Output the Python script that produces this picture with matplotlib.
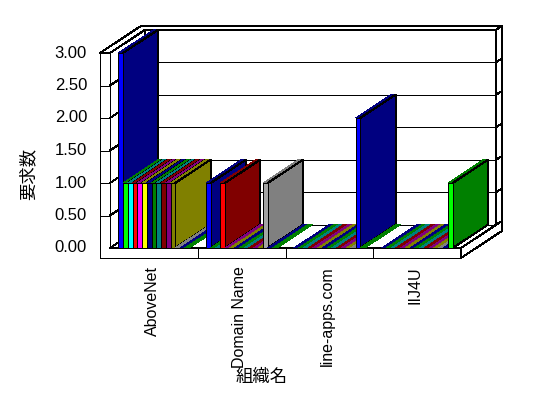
import matplotlib
matplotlib.use("Agg")
import matplotlib.pyplot as plt
from matplotlib.patches import Polygon

# data (request counts per organisation, 15 series)
categories = ["AboveNet", "Domain Name", "line-apps.com", "IIJ4U"]
abovenet = [3, 1, 1, 1, 1, 1, 1, 1, 1, 1, 1, 1, 0, 0, 0]
domain_name = [1, 0, 0, 1, 0, 0, 0, 0, 0, 0, 0, 0, 1, 0, 0]
line_apps = [0, 0, 0, 0, 0, 0, 0, 0, 0, 0, 0, 0, 0, 2, 0]
iij4u = [0, 0, 0, 0, 0, 0, 0, 0, 0, 0, 0, 0, 0, 0, 1]
y_ticks = [0.0, 0.5, 1.0, 1.5, 2.0, 2.5, 3.0]

front_colors = ['#0000ff', '#00ff00', '#00ffff', '#ff0000', '#ff00ff', '#ffff00', '#000080',
                '#008000', '#008080', '#800000', '#800080', '#808000', '#a4a4a4']
dark_colors = ['#000080', '#008000', '#008080', '#800000', '#800080', '#808000', '#000080',
               '#008000', '#008080', '#800000', '#800080', '#808000', '#808080']

groups = [abovenet, domain_name, line_apps, iij4u]
n_cat = len(categories)
n_ser = len(abovenet)
y_max = y_ticks[-1]

# layout: front floor starts at px 110, one category = 87.75 px, one unit = 65 px
W, H = 548, 398
px0, slot_px, py0, unit_px = 110, 87.75, 248, 65.0
DX, DY = 35.3 / slot_px, 23.3 / unit_px      # oblique depth vector
Z_BACK = 1.17                                  # back side of the back wall
T_L, T_F = 10 / slot_px, 10 / unit_px          # wall / floor thickness

fig = plt.figure(figsize=(W / 100, H / 100), dpi=100)
ax = fig.add_axes([0, 0, 1, 1])
ax.set_xlim(-px0 / slot_px, (W - px0) / slot_px)
ax.set_ylim((py0 - H) / unit_px, py0 / unit_px)
ax.axis('off')

LW = 0.7


def P(x, y, z):
    return (x + z * DX, y + z * DY)


def face(pts, fc, ec='black'):
    ax.add_patch(Polygon([P(*p) for p in pts], closed=True, facecolor=fc,
                         edgecolor=ec, linewidth=LW, antialiased=False, zorder=1))


def line(p1, p2):
    a, b = P(*p1), P(*p2)
    ax.plot([a[0], b[0]], [a[1], b[1]], color='black', lw=LW, antialiased=False, zorder=1)


# box: inner surfaces
face([(0, 0, 0), (n_cat, 0, 0), (n_cat, 0, 1), (0, 0, 1)], 'white')
face([(0, 0, 0), (0, 0, 1), (0, y_max, 1), (0, y_max, 0)], 'white')
face([(0, 0, 1), (n_cat, 0, 1), (n_cat, y_max, 1), (0, y_max, 1)], 'white')
# outer surfaces
face([(-T_L, y_max, 0), (0, y_max, 0), (0, 0, 0), (n_cat, 0, 0), (n_cat, -T_F, 0),
      (-T_L, -T_F, 0)], 'white')
face([(-T_L, y_max, 0), (0, y_max, 0), (0, y_max, 1), (n_cat, y_max, 1),
      (n_cat, y_max, Z_BACK), (-T_L, y_max, Z_BACK)], 'white')
face([(n_cat, -T_F, 0), (n_cat, 0, 0), (n_cat, 0, 1), (n_cat, y_max, 1),
      (n_cat, y_max, Z_BACK), (n_cat, -T_F, Z_BACK)], 'white')

for v in y_ticks:
    line((0, v, 1), (n_cat, v, 1))
    line((0, v, 0), (0, v, 1))
    line((n_cat, v, 1), (n_cat, v, Z_BACK))
    if v > 0:
        line((-T_L, v, 0), (0, v, 0))
for c in range(1, n_cat):
    line((c, -T_F, 0), (c, 0, 0))

# bars, left to right so the next bar hides the previous side face
bw = 4.75 / slot_px
offset = (1 - n_ser * bw) / 2
for c, vals in enumerate(groups):
    for s, v in enumerate(vals):
        x0 = c + offset + s * bw
        x1 = x0 + bw
        fc = front_colors[s % len(front_colors)]
        dc = dark_colors[s % len(dark_colors)]
        face([(x0, v, 0), (x1, v, 0), (x1, v, 1), (x0, v, 1)], dc, ec='none')
        if v > 0:
            face([(x1, 0, 0), (x1, 0, 1), (x1, v, 1), (x1, v, 0)], dc)
            face([(x0, 0, 0), (x1, 0, 0), (x1, v, 0), (x0, v, 0)], fc)

# texts
for v in y_ticks:
    ax.text((87 - px0) / slot_px, v, f"{v:.2f}", ha='right', va='center',
            fontsize=12, family='Liberation Sans')
for c, name in enumerate(categories):
    ax.text(c + 0.48, (py0 - 266) / unit_px, name, rotation=90, ha='center', va='top',
            fontsize=11.5, family='Liberation Sans')

ax.text((261.5 - px0) / slot_px, (py0 - 377) / unit_px, "組織名", ha='center', va='center',
        fontsize=12.5, family=['Noto Sans CJK JP', 'DejaVu Sans'])
ax.text((28.5 - px0) / slot_px, (py0 - 174) / unit_px, "要求数", rotation=90, ha='center',
        va='center', fontsize=12.5, family=['Noto Sans CJK JP', 'DejaVu Sans'])

fig.savefig("out.png", dpi=100)
